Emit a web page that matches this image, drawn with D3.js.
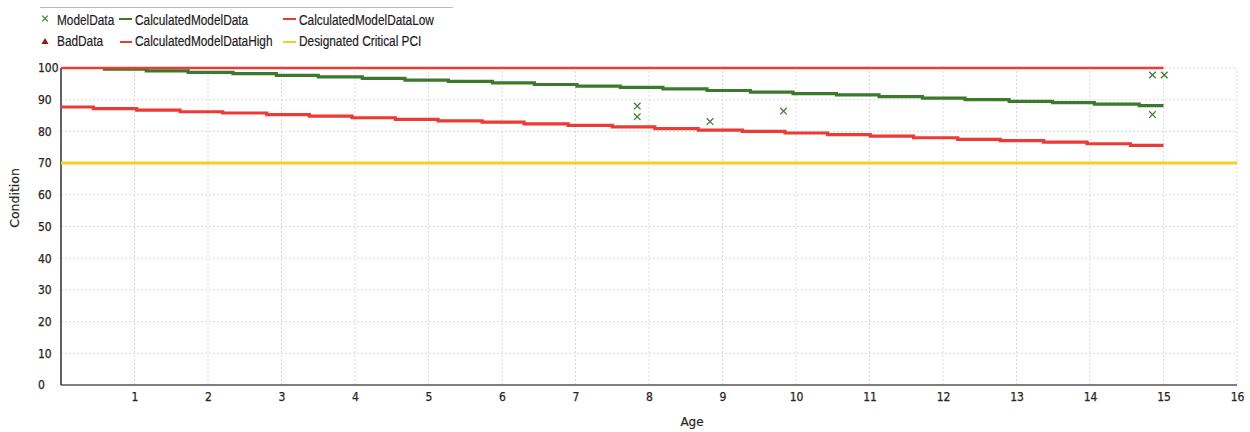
<!DOCTYPE html>
<html>
<head>
<meta charset="utf-8">
<script src="https://cdn.jsdelivr.net/npm/d3@7"></script>
<style>
  html, body { margin: 0; padding: 0; background: #fff; }
  svg { display: block; }
</style>
</head>
<body>
<svg id="chart" width="1250" height="432"></svg>
<script>
// Axis ticks
const xTicks = [1, 2, 3, 4, 5, 6, 7, 8, 9, 10, 11, 12, 13, 14, 15, 16];
const yTicks = [0, 10, 20, 30, 40, 50, 60, 70, 80, 90, 100];

// Observed model data (age, condition)
const modelAges   = [7.84, 7.84, 8.83, 9.83, 14.85, 15.01, 14.85];
const modelValues = [88.0, 84.6, 83.1, 86.4, 97.8, 97.8, 85.3];

// Calculated model curve (step points, last point closes the final step)
const calcAges   = [0.57, 1.16, 1.73, 2.34, 2.93, 3.50, 4.10, 4.68, 5.27, 5.87, 6.44, 7.02, 7.61,
                    8.19, 8.79, 9.38, 9.96, 10.55, 11.13, 11.72, 12.30, 12.90, 13.49, 14.06, 14.67, 15.0];
const calcValues = [99.6, 99.1, 98.6, 98.2, 97.7, 97.2, 96.7, 96.2, 95.8, 95.3, 94.8, 94.3, 93.9,
                    93.4, 92.9, 92.4, 91.9, 91.5, 91.0, 90.5, 90.0, 89.5, 89.1, 88.6, 88.1, 88.1];

// Lower bound of the calculated model
const lowAges   = [0, 0.44, 1.03, 1.62, 2.20, 2.80, 3.38, 3.96, 4.55, 5.13, 5.73, 6.30, 6.90, 7.50,
                   8.08, 8.67, 9.27, 9.85, 10.43, 11.01, 11.60, 12.20, 12.78, 13.37, 13.96, 14.55, 15.0];
const lowValues = [87.7, 87.2, 86.7, 86.2, 85.8, 85.3, 84.8, 84.3, 83.8, 83.3, 82.9, 82.4, 81.9, 81.4,
                   80.9, 80.4, 80.0, 79.5, 79.0, 78.5, 78.0, 77.5, 77.1, 76.6, 76.1, 75.6, 75.6];

// Upper bound of the calculated model
const highAges   = [0, 15];
const highValues = [100, 100];

// Designated critical PCI threshold
const criticalAges   = [0, 16];
const criticalValues = [70, 70];

const colors = {
  model: "#3f7f33",
  calc: "#3b7a2c",
  low: "#ec3a35",
  high: "#ec3a35",
  critical: "#f3d11e",
  bad: "#8e1c1c"
};

const svg = d3.select("#chart");
const x = d3.scaleLinear().domain([0, 16]).range([61, 1237]);
const y = d3.scaleLinear().domain([0, 100]).range([385, 68]);

// Grid
const grid = svg.append("g");
grid.selectAll("line.vg").data(xTicks).join("line")
  .attr("x1", d => x(d)).attr("x2", d => x(d))
  .attr("y1", y(0)).attr("y2", y(100))
  .attr("stroke", "#dfd8d8").attr("stroke-width", 1).attr("stroke-dasharray", "2,2");
grid.selectAll("line.hg").data(yTicks.filter(d => d > 0)).join("line")
  .attr("x1", x(0)).attr("x2", x(16))
  .attr("y1", d => y(d)).attr("y2", d => y(d))
  .attr("stroke", "#dfd8d8").attr("stroke-width", 1).attr("stroke-dasharray", "2,2");

// Axes
const tickFont = "'DejaVu Sans Condensed', 'DejaVu Sans', sans-serif";
const xAxis = svg.append("g").attr("transform", `translate(0,${y(0)})`)
  .call(d3.axisBottom(x).tickValues(xTicks).tickFormat(d3.format("d")).tickSize(0).tickPadding(7));
xAxis.select(".domain").remove();
xAxis.selectAll("text").attr("font-family", tickFont).attr("font-size", 12).attr("fill", "#2a2420")
  .attr("stroke", "#2a2420").attr("stroke-width", 0.25);

const yAxis = svg.append("g").attr("transform", `translate(${x(0)},0)`)
  .call(d3.axisLeft(y).tickValues(yTicks).tickFormat(d3.format("d")).tickSize(0));
yAxis.select(".domain").remove();
yAxis.selectAll("text").attr("font-family", tickFont).attr("font-size", 12).attr("fill", "#2a2420")
  .attr("stroke", "#2a2420").attr("stroke-width", 0.25)
  .attr("text-anchor", "start").attr("x", -23);

svg.append("line").attr("x1", x(0)).attr("x2", x(16)).attr("y1", y(0)).attr("y2", y(0))
  .attr("stroke", "#555").attr("stroke-width", 1.6);
svg.append("line").attr("x1", x(0)).attr("x2", x(0)).attr("y1", y(0)).attr("y2", y(100))
  .attr("stroke", "#3a3a3a").attr("stroke-width", 1.6);

// Axis titles
svg.append("text").attr("x", 692).attr("y", 426).attr("text-anchor", "middle")
  .attr("font-family", "'DejaVu Sans', sans-serif").attr("font-size", 12).attr("fill", "#2a2420")
  .attr("stroke", "#2a2420").attr("stroke-width", 0.2)
  .text("Age");
svg.append("text").attr("transform", "translate(19,198) rotate(-90)").attr("text-anchor", "middle")
  .attr("font-family", "'DejaVu Sans', sans-serif").attr("font-size", 12.5).attr("fill", "#2a2420")
  .attr("stroke", "#2a2420").attr("stroke-width", 0.2)
  .text("Condition");

// Series lines
const stepLine = d3.line().x(d => x(d[0])).y(d => y(d[1])).curve(d3.curveStepAfter);
const straight = d3.line().x(d => x(d[0])).y(d => y(d[1]));
const zip = (a, b) => a.map((v, i) => [v, b[i]]);

svg.append("path").datum(zip(criticalAges, criticalValues)).attr("d", straight)
  .attr("fill", "none").attr("stroke", colors.critical).attr("stroke-width", 3);
svg.append("path").datum(zip(lowAges, lowValues)).attr("d", stepLine)
  .attr("fill", "none").attr("stroke", colors.low).attr("stroke-width", 3.2);
svg.append("path").datum(zip(calcAges, calcValues)).attr("d", stepLine)
  .attr("fill", "none").attr("stroke", colors.calc).attr("stroke-width", 3.2);
svg.append("path").datum(zip(highAges, highValues)).attr("d", straight)
  .attr("fill", "none").attr("stroke", colors.high).attr("stroke-width", 2.6);

// Model data markers
const cross = (g, cx, cy, r, color, w) => {
  g.append("path")
    .attr("d", `M${cx - r},${cy - r}L${cx + r},${cy + r}M${cx - r},${cy + r}L${cx + r},${cy - r}`)
    .attr("stroke", color).attr("stroke-width", w).attr("fill", "none");
};
const marks = svg.append("g");
zip(modelAges, modelValues).forEach(d => cross(marks, x(d[0]), y(d[1]), 3.3, colors.model, 1.3));

// Legend
const legend = svg.append("g");
legend.append("line").attr("x1", 40).attr("x2", 453).attr("y1", 7.5).attr("y2", 7.5)
  .attr("stroke", "#bbb").attr("stroke-width", 1);

const legendFont = "'Liberation Sans', Arial, sans-serif";
const legendText = (tx, ty, label) => {
  legend.append("text")
    .attr("transform", `translate(${tx},${ty}) scale(0.79,1)`)
    .attr("font-family", legendFont).attr("font-size", 15).attr("fill", "#1e1a24")
    .attr("stroke", "#1e1a24").attr("stroke-width", 0.2)
    .text(label);
};
const legendDash = (x1, x2, yy, color) => {
  legend.append("line").attr("x1", x1).attr("x2", x2).attr("y1", yy).attr("y2", yy)
    .attr("stroke", color).attr("stroke-width", 2);
};

cross(legend, 45, 18.5, 2.8, colors.model, 1.2);
legendText(57, 25, "ModelData");
legendDash(119, 132, 19, colors.calc);
legendText(135, 25, "CalculatedModelData");
legendDash(283, 296, 19, colors.low);
legendText(299, 25, "CalculatedModelDataLow");

legend.append("path").attr("d", d3.symbol(d3.symbolTriangle, 22)())
  .attr("transform", "translate(45,42)").attr("fill", colors.bad);
legendText(57, 46, "BadData");
legendDash(120, 132, 42, colors.high);
legendText(135, 46, "CalculatedModelDataHigh");
legendDash(283, 296, 42, colors.critical);
legendText(299, 46, "Designated Critical PCI");
</script>
</body>
</html>
